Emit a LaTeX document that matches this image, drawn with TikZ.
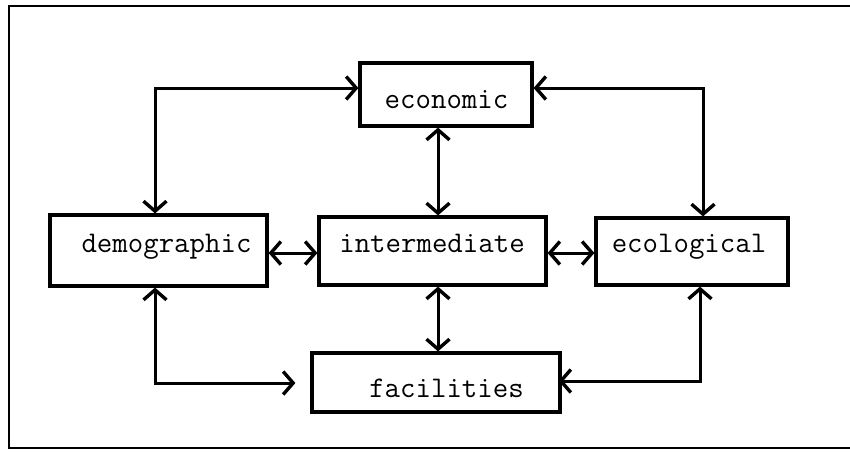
\documentclass[tikz,border=0pt]{standalone}
\usetikzlibrary{arrows.meta}

\begin{document}
\begin{tikzpicture}[x=1pt,y=-1pt,
	box/.style={draw,line width=3.2pt,inner sep=0pt},
	txt/.style={font=\fontsize{30}{34}\selectfont\ttfamily,inner sep=0pt,anchor=base},
	link/.style={line width=3pt,line cap=round,
		{Straight Barb[length=10pt,width=23pt,line width=3.4pt]}-{Straight Barb[length=10pt,width=23pt,line width=3.4pt]}}]
	\useasboundingbox (0,0) rectangle (850,451);

	% frame
	\draw[line width=2.2pt] (850,6) -- (9,6) -- (9,448) -- (850,448);

	% boxes
	\node[box,minimum width=172,minimum height=63] (eco) at (446,94.5) {};
	\node[box,minimum width=217,minimum height=71] (dem) at (158.5,250.5) {};
	\node[box,minimum width=227,minimum height=68] (int) at (432.5,251) {};
	\node[box,minimum width=192,minimum height=67] (ecl) at (692,251.5) {};
	\node[box,minimum width=248,minimum height=59] (fac) at (436,382.5) {};

	\node[txt] (ecot) at (446.5,108) {economic};
	\node[txt] (demt) at (166.5,252) {demographic};
	\node[txt] (intt) at (432,252) {intermediate};
	\node[txt] (eclt) at (689,252) {ecological};
	\node[txt] (fact) at (446.5,397) {facilities};

	% corners and lines
	\coordinate (c1) at (155,88);
	\coordinate (c2) at (703,88);
	\coordinate (c3) at (155,383);
	\coordinate (c4) at (700,381);
	\coordinate (vx) at (438,0);
	\coordinate (hy) at (0,253);

	\draw[link] (dem.north -| c1) -- (c1) -- (eco.west |- c1);
	\draw[link] (eco.east |- c2) -- (c2) -- (ecl.north -| c2);
	\draw[link] (eco.south -| vx) -- (int.north -| vx);
	\draw[link] (int.south -| vx) -- (fac.north -| vx);
	\draw[link] (dem.east |- hy) -- (int.west |- hy);
	\draw[link] (int.east |- hy) -- (ecl.west |- hy);
	\draw[link,shorten >=15pt] (dem.south -| c3) -- (c3) -- (fac.west |- c3);
	\draw[link,shorten <=-3pt] (fac.east |- c4) -- (c4) -- (ecl.south -| c4);
\end{tikzpicture}
\end{document}
